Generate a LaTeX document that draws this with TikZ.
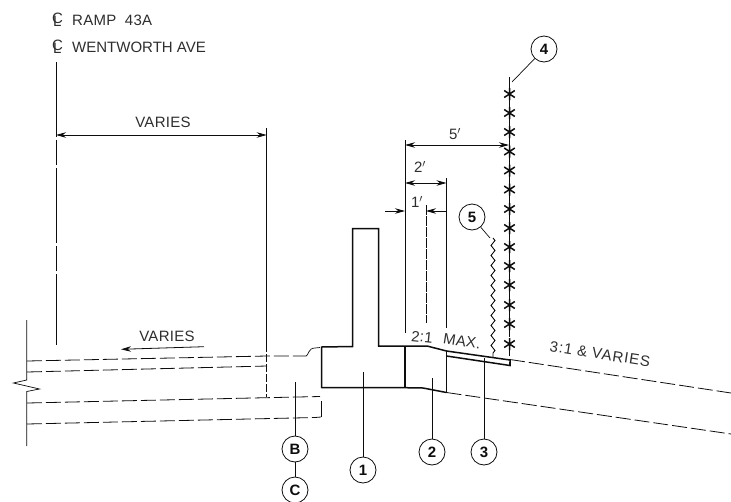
\documentclass[tikz,border=0pt]{standalone}
\usepackage{fontspec}
\setmainfont{Liberation Sans}
\usetikzlibrary{arrows.meta,decorations.pathmorphing}
\definecolor{ink}{gray}{0.05}
\definecolor{soft}{gray}{0.18}
\newcommand{\clsym}{\rlap{C}\raisebox{-3pt}{\kern1pt L}}
\tikzset{
  thinl/.style={draw=ink,line width=0.7pt},
  thickl/.style={draw=ink,line width=1.5pt},
  dashl/.style={draw=ink,line width=0.8pt,dash pattern=on 15pt off 4pt},
  dim/.style={draw=ink,line width=0.8pt,{Stealth[length=10pt,width=5.5pt]}-{Stealth[length=10pt,width=5.5pt]}},
  arr/.style={draw=ink,line width=0.8pt,-{Stealth[length=10pt,width=5.5pt]}},
  lbl/.style={font=\fontsize{15}{15}\selectfont\addfontfeature{LetterSpace=2},text=soft,inner sep=0pt},
  wide/.style={font=\fontsize{15}{15}\selectfont\addfontfeature{LetterSpace=6},text=soft,inner sep=0pt},
  tag/.style={circle,draw=ink,line width=0.8pt,minimum size=26pt,inner sep=0pt,font=\fontsize{15}{15}\selectfont\bfseries,text=ink}
}
\begin{document}
\begin{tikzpicture}[x=1pt,y=-1pt]
\useasboundingbox[fill=white] (0,0) rectangle (731,501);
% header labels
\node[lbl,anchor=west] (clA) at (52,20) {\clsym};
\node[lbl,anchor=west] (tA) at (72,20) {RAMP\hspace{4pt} 43A};
\node[lbl,anchor=west] (clB) at (52,47) {\clsym};
\node[lbl,anchor=west,font=\fontsize{15}{15}\selectfont] (tB) at (72,47) {WENTWORTH AVE};
% centre line and offset line
\draw[draw=ink,line width=0.8pt,dash pattern=on 75pt off 3pt on 25pt off 3pt] (56,62) -- (56,345);
\draw[thinl] (266.7,128) -- (266.7,352);
\draw[dashl,dash pattern=on 8pt off 2pt] (266.7,354) -- (266.7,397);
% VARIES dims
\coordinate (vL) at (56,135); \coordinate (vR) at (266.7,135);
\draw[dim] (vL) -- (vR);
\node[lbl] (v1) at (163,122) {VARIES};
\coordinate (lA) at (204,346.7); \coordinate (lB) at (121,349.3);
\draw[arr] (lA) -- (lB);
\node[lbl] (v2) at (167,336) {VARIES};
% left break line
\draw[thinl] (26.7,320) -- (26.7,380) -- (13.5,383) -- (39.5,389) -- (26.7,391.5) -- (26.7,446);
% pavement dashed lines
\draw[dashl] (27,361) -- (267,356) -- (306,356);
\draw[thinl] (306,356) .. controls (309,355) and (308,348) .. (315,348) -- (320,347.5);
\draw[dashl] (27,372) -- (267,366);
\draw[dashl] (27,403) -- (320,396.5);
\draw[dashl] (27,424) -- (315,417.5) -- (321,417);
\draw[thinl] (321,401) -- (321,417);
% barrier
\draw[thickl,line join=miter] (321.7,388) -- (321.7,347) -- (352.7,346.5) -- (352.7,228.5) -- (378.7,228.5) -- (378.7,346) -- (405,346) -- (427,346) -- (446.5,351) -- (510,360) -- (510,365.5) -- (446.5,356);
\draw[thickl] (321.7,387.7) -- (405,387.7) -- (423,388) -- (446.5,392.5);
\draw[thickl] (405,346) -- (405,387.7);
\draw[thickl,line width=1pt] (446.5,351) -- (446.5,392.5);
% dimension extension lines
\draw[thinl] (405,140) -- (405,333);
\draw[thinl] (446.5,178) -- (446.5,328);
\draw[thinl,dash pattern=on 10pt off 1pt] (426,205) -- (426,323);
\coordinate (d5L) at (405,145); \coordinate (d5R) at (509,145);
\draw[dim] (d5L) -- (d5R);
\node[lbl] (t5) at (455,134) {5$'$};
\coordinate (d2L) at (405,183); \coordinate (d2R) at (446.5,183);
\draw[dim] (d2L) -- (d2R);
\node[lbl] (t2) at (420,167) {2$'$};
\coordinate (d1a) at (385,211); \coordinate (d1b) at (405,211);
\coordinate (d1c) at (446,211); \coordinate (d1d) at (426,211);
\draw[arr] (d1a) -- (d1b);
\draw[arr] (d1c) -- (d1d);
\node[lbl] (t1) at (417,202) {1$'$};
% fence
\draw[draw=ink,line width=1.5pt,dash pattern=on 13pt off 6pt] (509.5,77) -- (509.5,366);
\foreach \yy in {94,113,132,151.5,170.5,189.5,209,228,247,266,285,305,324,344}{
  \draw[draw=ink,line width=1.5pt] (504.2,\yy-3.5) -- (514.8,\yy+3.5) (504.2,\yy+3.5) -- (514.8,\yy-3.5) (509.5,\yy-6) -- (509.5,\yy+6);
}
% wavy line
\coordinate (wT) at (493,238); \coordinate (wB) at (493,357);
\draw[draw=ink,line width=0.9pt,decorate,decoration={zigzag,segment length=10pt,amplitude=2pt}] (wT) -- (wB);
% tags
\node[tag] (n4) at (544,49) {4};
\node[tag] (n5) at (472,217) {5};
\node[tag] (n1) at (363,470) {1};
\node[tag] (n2) at (432,452) {2};
\node[tag] (n3) at (484,452) {3};
\node[tag] (nB) at (295,449) {B};
\node[tag] (nC) at (295,490) {C};
\coordinate (p4) at (512,82);
\coordinate (p5) at (490,238);
\coordinate (p1) at (363,372);
\coordinate (p2) at (432,378);
\coordinate (p3) at (484,358);
\coordinate (pB) at (295,382);
\draw[thinl] (n4) -- (p4);
\draw[thinl] (n5) -- (p5);
\draw[thinl] (n1) -- (p1);
\draw[thinl] (n2) -- (p2);
\draw[thinl,line width=1pt] (n3) -- (p3);
\draw[thinl] (nB) -- (pB);
\draw[thinl] (nB) -- (nC);
% slope
\draw[dashl] (510,359.5) -- (731,393);
\draw[dashl] (446.5,392.5) -- (731,434);
\node[lbl,rotate=-6] (s1) at (422,337) {2:1};
\node[lbl,rotate=-9] (s2) at (462,341) {MAX.};
\node[wide,rotate=-9] (s3) at (600,354) {3:1 \& VARIES};
\end{tikzpicture}
\end{document}
